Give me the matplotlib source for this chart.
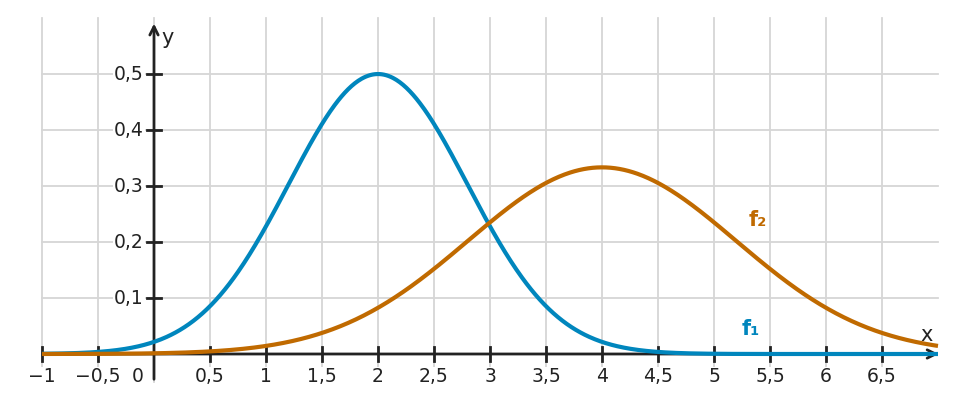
import numpy as np
import matplotlib
matplotlib.use("Agg")
import matplotlib.pyplot as plt

# Curve parameters (normal densities)
f1_mu, f1_sigma = 2.0, 0.798   # peak 0.5 at x = 2
f2_mu, f2_sigma = 4.0, 1.197   # peak 0.333 at x = 4
x_ticks = [-1, -0.5, 0.5, 1, 1.5, 2, 2.5, 3, 3.5, 4, 4.5, 5, 5.5, 6, 6.5]
x_tick_labels = ["−1", "−0,5", "0,5", "1", "1,5", "2", "2,5", "3", "3,5", "4", "4,5", "5", "5,5", "6", "6,5"]
y_ticks = [0.1, 0.2, 0.3, 0.4, 0.5]
y_tick_labels = ["0,1", "0,2", "0,3", "0,4", "0,5"]

blue = "#0086bd"
orange = "#c06a00"
axc = "#222222"
gridc = "#d6d6d6"

W, H = 959, 403
fig = plt.figure(figsize=(W / 100, H / 100), dpi=100)
ax = fig.add_axes([0, 0, 1, 1])
# pixel mapping: x=0 at 154px, 112 px/unit ; y=0 at 354px, 560 px/unit
ax.set_xlim(-154 / 112, (W - 154) / 112)
ax.set_ylim(-(H - 354) / 560, 354 / 560)
ax.axis("off")

xmin, xmax = -1.0, 7.0
ymin, ymax = -0.05, 0.6
for gx in np.arange(-1, 7, 0.5):
    ax.plot([gx, gx], [ymin, ymax], color=gridc, lw=1.3, zorder=1)
for gy in y_ticks:
    ax.plot([xmin, xmax], [gy, gy], color=gridc, lw=1.3, zorder=1)

# axes
ax.annotate("", xy=(7.03, 0), xytext=(-1.0, 0),
            arrowprops=dict(arrowstyle="->,head_length=0.6,head_width=0.3", color=axc, lw=2.0), zorder=5)
ax.annotate("", xy=(0, 0.595), xytext=(0, -0.05),
            arrowprops=dict(arrowstyle="->,head_length=0.6,head_width=0.3", color=axc, lw=2.0), zorder=5)

# ticks
tick_h = 0.012
for t in x_ticks:
    ax.plot([t, t], [-tick_h, tick_h], color=axc, lw=2.0, zorder=5)
tick_w = 0.06
for t in y_ticks:
    ax.plot([-tick_w, tick_w], [t, t], color=axc, lw=2.0, zorder=5)

bbox = dict(facecolor="white", edgecolor="none", pad=0.5)
fs = 13.5
for t, lab in zip(x_ticks, x_tick_labels):
    ax.text(t, -0.024, lab, ha="center", va="top", fontsize=fs, color=axc, bbox=bbox, zorder=4)
ax.text(-0.15, -0.024, "0", ha="center", va="top", fontsize=fs, color=axc, bbox=bbox, zorder=4)
for t, lab in zip(y_ticks, y_tick_labels):
    ax.text(-0.09, t, lab, ha="right", va="center", fontsize=fs, color=axc, bbox=bbox, zorder=4)

ax.text(0.07, 0.565, "y", ha="left", va="center", fontsize=15, color=axc, zorder=6)
ax.text(6.9, 0.034, "x", ha="center", va="center", fontsize=15, color=axc, zorder=6)

# curves
xs = np.linspace(-1, 7, 800)
f1 = np.exp(-0.5 * ((xs - f1_mu) / f1_sigma) ** 2) / (f1_sigma * np.sqrt(2 * np.pi))
f2 = np.exp(-0.5 * ((xs - f2_mu) / f2_sigma) ** 2) / (f2_sigma * np.sqrt(2 * np.pi))
ax.plot(xs, f1, color=blue, lw=3.0, zorder=7, solid_capstyle="butt")
ax.plot(xs, f2, color=orange, lw=3.0, zorder=8, solid_capstyle="butt")

ax.text(5.39, 0.239, "f₂", ha="center", va="center", fontsize=15, color=orange, fontweight="bold", zorder=9)
ax.text(5.33, 0.045, "f₁", ha="center", va="center", fontsize=15, color=blue, fontweight="bold", zorder=9)

fig.savefig("out.png", dpi=100)
